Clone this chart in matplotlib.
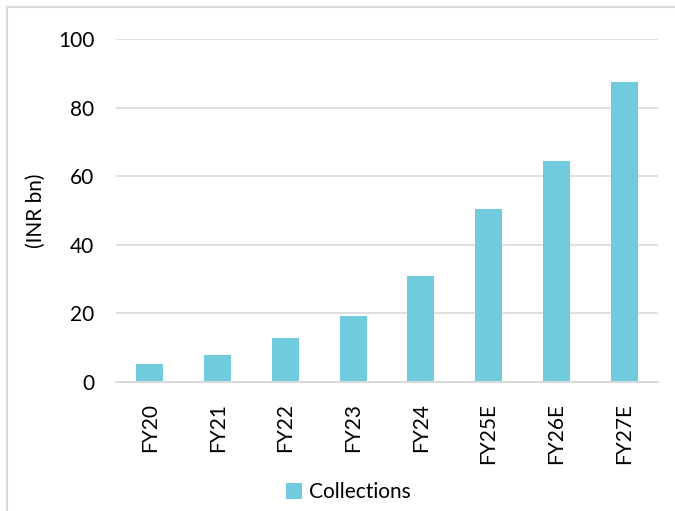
import matplotlib
matplotlib.use("Agg")
import matplotlib.pyplot as plt
from matplotlib.lines import Line2D

categories = ["FY20", "FY21", "FY22", "FY23", "FY24", "FY25E", "FY26E", "FY27E"]
collections = [5.1, 7.7, 12.8, 19.1, 31.0, 50.3, 64.5, 87.4]
yticks = [0, 20, 40, 60, 80, 100]

plt.rcParams['font.family'] = ['Lato', 'DejaVu Sans']

W, H = 675, 511
fig = plt.figure(figsize=(W / 100, H / 100), dpi=100)
ax = fig.add_axes([116 / W, 1 - 381.7 / H, (658 - 116) / W, (381.7 - 39.3) / H])

x = range(len(categories))
ax.bar(x, collections, width=0.4, color="#70CCDC", label="Collections", zorder=3)
ax.set_xlim(-0.5, len(categories) - 0.5)
ax.set_ylim(0, 100)
ax.set_yticks(yticks)
ax.set_yticklabels([str(t) for t in yticks], fontsize=15, color="#000000")
ax.set_xticks(list(x))
ax.set_xticklabels(categories, rotation=90, fontsize=15, color="#000000")
ax.tick_params(axis="both", length=0)
ax.tick_params(axis="y", pad=15.5)
ax.tick_params(axis="x", pad=15)
ax.grid(axis="y", color="#D9D9D9", linewidth=1.2, zorder=0)
for s in ["top", "right", "left"]:
    ax.spines[s].set_visible(False)
ax.spines["bottom"].set_color("#D9D9D9")
ax.spines["bottom"].set_linewidth(1.4)
ax.spines["bottom"].set_zorder(4)
ax.set_ylabel("(INR bn)", fontsize=15)
ax.yaxis.set_label_coords((46 - 116) / (658 - 116), 0.5)

fig.legend(loc="center", bbox_to_anchor=(348 / W, 1 - 492 / H), frameon=False,
           fontsize=15, handlelength=0.8, handleheight=0.8, handletextpad=0.3)

# chart frame (top and left edges visible)
fig.add_artist(Line2D([7 / W, 7 / W], [0, 1 - 7 / H], transform=fig.transFigure,
                      color="#D9D9D9", linewidth=1.5))
fig.add_artist(Line2D([7 / W, 1], [1 - 7 / H, 1 - 7 / H], transform=fig.transFigure,
                      color="#D9D9D9", linewidth=1.5))

fig.savefig("out.png", dpi=100, facecolor="white")
